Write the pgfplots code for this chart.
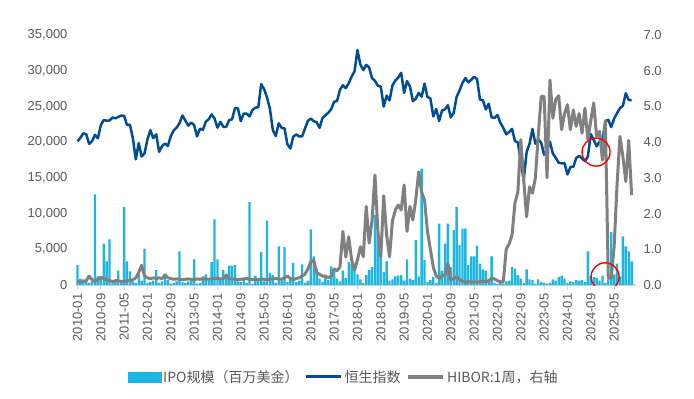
\documentclass[border=0pt]{standalone}
\usepackage{pgfplots}
\pgfplotsset{compat=1.18}
\usepackage{pgfplotstable}
\usepackage{fontspec}
\setmainfont{Liberation Sans}
\newfontfamily\cjk{Noto Sans CJK SC}
\definecolor{ipoblue}{RGB}{30,182,224}
\definecolor{hsiblue}{RGB}{0,77,150}
\definecolor{hiborgray}{RGB}{128,128,128}
\definecolor{textgray}{RGB}{89,89,89}
\definecolor{axisgray}{RGB}{217,217,217}

\pgfplotstableread{
x ipo hsi hibor
0 2800 20122 0.10
1 900 20609 0.08
2 800 21239 0.10
3 700 21108 0.12
4 300 19765 0.25
5 500 20129 0.15
6 12700 21030 0.10
7 1200 20536 0.15
8 1000 22358 0.22
9 5800 23096 0.18
10 3300 23008 0.15
11 6400 23035 0.12
12 500 23447 0.10
13 400 23338 0.12
14 2000 23528 0.12
15 300 23720 0.10
16 10900 23684 0.10
17 3300 22398 0.12
18 1900 22440 0.12
19 500 20535 0.15
20 300 17592 0.20
21 1900 19864 0.35
22 600 17989 0.55
23 5100 18434 0.25
24 300 20390 0.20
25 400 21680 0.18
26 600 20556 0.20
27 2100 21094 0.18
28 300 18630 0.20
29 500 19441 0.18
30 1600 19797 0.28
31 700 19483 0.20
32 200 20840 0.18
33 300 21642 0.16
34 500 22030 0.17
35 4700 22657 0.16
36 400 23730 0.15
37 300 23020 0.16
38 500 22300 0.17
39 800 22737 0.16
40 3600 22392 0.15
41 200 20803 0.17
42 300 21883 0.16
43 1200 21731 0.18
44 1500 22860 0.17
45 600 23206 0.16
46 3200 23881 0.17
47 9200 23306 0.18
48 3600 22035 0.19
49 800 22837 0.17
50 2100 22151 0.18
51 1400 22134 0.28
52 2700 23082 0.18
53 2700 23191 0.17
54 2800 24757 0.16
55 500 24742 0.15
56 400 22933 0.16
57 900 23998 0.17
58 300 23987 0.18
59 11600 23605 0.16
60 200 24507 0.15
61 1300 24823 0.16
62 1000 24901 0.15
63 4600 28133 0.17
64 500 27424 0.16
65 9000 26250 0.15
66 1700 24636 0.16
67 1400 21671 0.17
68 300 20846 0.18
69 5400 22640 0.17
70 600 21996 0.16
71 5300 21914 0.20
72 400 19683 0.25
73 700 19112 0.18
74 3100 20777 0.15
75 400 21067 0.18
76 600 20815 0.20
77 2900 20794 0.25
78 300 21891 0.30
79 600 22977 0.45
80 7800 23297 0.65
81 4000 22935 0.70
82 2300 22790 0.35
83 900 22001 0.30
84 400 23361 0.25
85 1200 23741 0.25
86 700 24112 0.20
87 2600 24615 0.25
88 2000 25661 0.45
89 900 25765 0.40
90 500 27323 0.50
91 2000 27970 1.50
92 1000 27554 0.78
93 3200 28246 1.35
94 3000 29177 0.70
95 2000 29919 0.42
96 1500 32887 0.70
97 800 30845 1.07
98 300 30093 0.79
99 1400 30808 2.20
100 2100 30469 1.17
101 2500 28955 1.80
102 9800 28583 3.08
103 7200 27889 1.50
104 6500 27789 0.79
105 1800 24980 2.50
106 3300 26507 1.40
107 600 25846 0.79
108 800 27942 1.80
109 1200 28633 2.10
110 1300 29051 2.24
111 1400 29699 2.10
112 600 26901 2.80
113 3600 28543 1.50
114 900 27778 2.20
115 700 25725 1.82
116 6300 26092 2.40
117 1200 26907 3.17
118 16300 26346 2.60
119 3500 28190 2.38
120 400 26313 1.50
121 700 26130 1.00
122 1100 23603 0.50
123 300 24644 0.25
124 8600 22961 0.19
125 2000 24427 0.25
126 5800 24595 0.28
127 8600 25177 0.60
128 2500 23459 0.14
129 7700 24107 0.18
130 10900 26341 0.23
131 5600 27231 0.15
132 7900 28284 0.10
133 7900 28980 0.08
134 2800 28378 0.09
135 4000 28725 0.08
136 4000 29152 0.09
137 5500 28828 0.08
138 3000 25961 0.09
139 2200 25879 0.10
140 2000 24576 0.09
141 500 25377 0.12
142 4000 23475 0.19
143 300 23398 0.17
144 200 23802 0.12
145 300 22713 0.09
146 200 21997 0.09
147 500 21089 1.00
148 600 21415 1.15
149 2500 21860 1.40
150 2300 20157 2.30
151 1400 19954 2.60
152 900 17223 4.07
153 300 14687 2.94
154 2200 18597 1.91
155 800 19781 2.75
156 700 21842 2.57
157 200 19786 3.00
158 800 20400 4.20
159 400 19895 5.28
160 300 18234 5.28
161 200 18916 3.00
162 300 20079 5.74
163 800 18382 4.67
164 600 17810 5.20
165 1100 17112 5.30
166 1300 17043 4.35
167 900 17047 4.80
168 300 15485 5.05
169 500 16511 4.35
170 400 16541 4.90
171 700 17763 4.44
172 600 18080 4.80
173 700 17719 4.25
174 400 17345 4.95
175 4700 17989 4.07
176 1300 21134 4.60
177 1100 20317 5.10
178 1000 19424 4.16
179 600 20060 4.30
180 1300 20225 3.50
181 300 22941 4.60
182 800 23120 0.19
183 7400 22119 0.19
184 1500 23290 1.07
185 3000 24072 2.80
186 1200 24773 4.16
187 6800 25078 3.60
188 5400 26856 2.90
189 4700 25907 4.05
190 3300 25858 2.52
}\datatable

\begin{document}
\begin{tikzpicture}
\path[use as bounding box] (-76pt,-114pt) rectangle (618pt,285pt);
\begin{axis}[
  scale only axis, width=560pt, height=250pt,
  xmin=-0.5, xmax=191.5, ymin=0, ymax=35000,
  axis x line*=bottom, axis y line*=left,
  y axis line style={draw=none},
  x axis line style={draw=axisgray, line width=2pt, -},
  xtick={0,8,...,184},
  xticklabels={2010-01,2010-09,2011-05,2012-01,2012-09,2013-05,2014-01,2014-09,2015-05,2016-01,2016-09,2017-05,2018-01,2018-09,2019-05,2020-01,2020-09,2021-05,2022-01,2022-09,2023-05,2024-01,2024-09,2025-05},
  x tick label style={rotate=90, anchor=east, font=\fontsize{13}{15}\selectfont, text=textgray},
  xtick align=outside, major tick length=5pt,
  x tick style={draw=axisgray, line width=1pt},
  ytick={0,5000,...,35000},
  y tick style={draw=none},
  scaled y ticks=false,
  y tick label style={font=\fontsize{13}{15}\selectfont, text=textgray, xshift=-5pt, /pgf/number format/1000 sep={,}},
  /pgf/number format/assume math mode=true,
]
\addplot[ybar, bar width=0.82, fill=ipoblue, draw=none] table[x=x,y=ipo]{\datatable};
\addplot[hsiblue, line width=2.5pt, line join=round, no markers] table[x=x,y=hsi]{\datatable};
\end{axis}
\begin{axis}[
  scale only axis, width=560pt, height=250pt,
  xmin=-0.5, xmax=191.5, ymin=0, ymax=7,
  axis x line=none, axis y line*=right,
  y axis line style={draw=none},
  ytick={0,1,2,3,4,5,6,7},
  y tick style={draw=none},
  y tick label style={font=\fontsize{13}{15}\selectfont, text=textgray, xshift=4pt, /pgf/number format/.cd, fixed, fixed zerofill, precision=1},
  /pgf/number format/assume math mode=true,
  legend style={at={(0.478,-0.368)}, anchor=center, draw=none, fill=none,
    font=\cjk\fontsize{14}{16}\selectfont, text=textgray,
    /tikz/every even column/.append style={column sep=4pt}},
  legend columns=3,
]
\addlegendimage{legend image code/.code={\fill[ipoblue] (0pt,-5pt) rectangle (33pt,5pt);}}
\addlegendentry{IPO规模（百万美金）}
\addlegendimage{legend image code/.code={\draw[hsiblue, line width=3pt] (0pt,0pt) -- (35pt,0pt);}}
\addlegendentry{恒生指数}
\addlegendimage{legend image code/.code={\draw[hiborgray, line width=3.5pt] (0pt,0pt) -- (35pt,0pt);}}
\addlegendentry{HIBOR:1周，右轴}
\addplot[hiborgray, line width=3pt, line join=round, no markers, forget plot] table[x=x,y=hibor]{\datatable};
\draw[red, line width=1.4pt] (axis cs:177.8,3.72) circle[radius=14pt];
\draw[red, line width=1.4pt] (axis cs:180.9,0.23) circle[radius=14pt];
\end{axis}
\end{tikzpicture}
\end{document}
